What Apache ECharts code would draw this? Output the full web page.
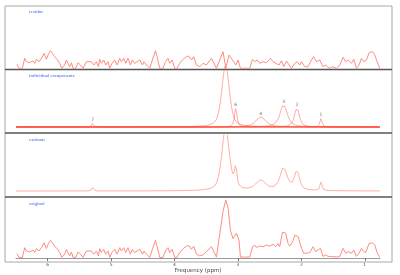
<!DOCTYPE html>
<html><head><meta charset="utf-8">
<script src="https://cdn.jsdelivr.net/npm/echarts@6/dist/echarts.min.js"></script>
<style>html,body{margin:0;padding:0;background:#fff}#c{width:400px;height:275px}</style>
</head><body><div id="c"></div>
<script>
// ---- data ----
const panelTitles = ['residue', 'individual components', 'estimate', 'original'];
const xTicks = [6, 5, 4, 3, 2, 1];
const xLabel = 'Frequency (ppm)';
// fitted components (pseudo-Voigt lines): label, centre (ppm), height, half width (ppm), Lorentz fraction
const compLabels = ['1', '2', '3', '4', '5', '6', '7'];
const compCenter = [1.69, 2.07, 2.28, 2.64, 3.195, 3.035, 5.29];
const compHeight = [9, 19, 22, 10, 62, 19, 4];
const compHalfWidth = [0.019, 0.047, 0.07, 0.095, 0.071, 0.024, 0.016];
const compEta = [0.7, 0.7, 0.7, 0.7, 0.5, 0.7, 0.7];
// residue samples
const resPpm = [6.484, 6.453, 6.399, 6.363, 6.336, 6.284, 6.232, 6.205, 6.178, 6.137, 6.099, 6.058, 6.021, 5.995, 5.957, 5.926, 5.890, 5.853, 5.811, 5.779, 5.732, 5.705, 5.680, 5.653, 5.626, 5.601, 5.558, 5.522, 5.484, 5.443, 5.390, 5.364, 5.311, 5.274, 5.232, 5.200, 5.180, 5.153, 5.117, 5.085, 5.049, 5.022, 4.986, 4.943, 4.907, 4.864, 4.838, 4.801, 4.770, 4.733, 4.696, 4.664, 4.628, 4.591, 4.549, 4.506, 4.481, 4.443, 4.391, 4.349, 4.301, 4.276, 4.233, 4.181, 4.144, 4.103, 4.076, 4.039, 3.997, 3.961, 3.918, 3.866, 3.812, 3.776, 3.733, 3.697, 3.655, 3.603, 3.551, 3.497, 3.418, 3.339, 3.235, 3.192, 3.140, 3.087, 3.035, 2.998, 2.961, 2.814, 2.771, 2.735, 2.699, 2.656, 2.604, 2.550, 2.487, 2.446, 2.404, 2.352, 2.314, 2.278, 2.235, 2.194, 2.156, 2.104, 2.068, 2.025, 1.998, 1.946, 1.894, 1.841, 1.804, 1.762, 1.710, 1.658, 1.615, 1.563, 1.509, 1.446, 1.394, 1.342, 1.300, 1.263, 1.210, 1.174, 1.131, 1.090, 1.052, 1.016, 0.973, 0.932, 0.878, 0.842, 0.806, 0.763];
const resVal = [4.7, 0.7, 0.7, 10.7, 7.3, 6.3, 8.3, 5.7, 9.7, 7.3, 10.7, 15.7, 9.7, 14, 18.3, 15.7, 12.3, 9.7, 5.7, 0.7, 4, 9, 5.7, 2.3, 6.3, 0.7, 0.7, 6.3, 4, 0.7, 7.3, 5.7, 7.3, 4, 7.3, 2.3, 9.7, 5.7, 9, 4, 7.3, 0.7, 5.7, 9, 4, 10.7, 7.3, 10.7, 5.7, 10.7, 4, 9, 5.7, 7.3, 9, 4, 7.3, 4, 0.7, 9, 18.3, 12.3, 0.7, 0.7, 7.3, 10.7, 5.7, 9, 0.7, 0.7, 5.7, 9.7, 12.3, 13, 9, 12.3, 4, 2.3, 5.7, 4, 10.7, 0.7, 17.3, 1, 14, 9, 4, 9, 0.7, 0.7, 9.7, 7.3, 9, 5.7, 7.3, 6.3, 10.7, 7.3, 5.7, 4, 8.3, 2.3, 8, 4, 0.7, 5.7, 7.3, 4, 7.3, 2.3, 2.3, 9, 12.3, 7.3, 9, 2.3, 4, 0.7, 2.3, 0.7, 4, 11.7, 7.3, 9, 5.7, 9.7, 0.7, 4, 10.7, 7.3, 9, 16.3, 17.3, 14, 7.3, 0.7];
// original spectrum samples
const origPpm = [6.484, 6.453, 6.399, 6.363, 6.336, 6.284, 6.232, 6.205, 6.178, 6.137, 6.099, 6.058, 6.021, 5.995, 5.957, 5.926, 5.890, 5.853, 5.811, 5.779, 5.732, 5.705, 5.680, 5.653, 5.626, 5.601, 5.558, 5.522, 5.484, 5.443, 5.390, 5.364, 5.311, 5.274, 5.232, 5.200, 5.180, 5.153, 5.117, 5.085, 5.049, 5.022, 4.986, 4.943, 4.907, 4.864, 4.838, 4.801, 4.770, 4.733, 4.696, 4.664, 4.628, 4.591, 4.549, 4.506, 4.481, 4.443, 4.391, 4.349, 4.301, 4.276, 4.233, 4.181, 4.144, 4.103, 4.076, 4.039, 3.997, 3.961, 3.918, 3.866, 3.812, 3.776, 3.733, 3.697, 3.655, 3.603, 3.551, 3.497, 3.418, 3.339, 3.287, 3.235, 3.192, 3.156, 3.118, 3.077, 3.024, 2.983, 2.961, 2.814, 2.771, 2.735, 2.708, 2.656, 2.604, 2.550, 2.498, 2.446, 2.404, 2.368, 2.341, 2.298, 2.246, 2.210, 2.183, 2.140, 2.104, 2.052, 1.998, 1.962, 1.920, 1.868, 1.815, 1.773, 1.737, 1.699, 1.658, 1.615, 1.579, 1.525, 1.446, 1.394, 1.342, 1.300, 1.263, 1.210, 1.174, 1.131, 1.090, 1.052, 1.016, 0.984, 0.932, 0.878, 0.842, 0.806, 0.763];
const origVal = [4.7, 0.7, 0.7, 10.7, 7.3, 6.3, 8.3, 5.7, 9.7, 7.3, 10.7, 15.7, 9.7, 14, 18.3, 15.7, 12.3, 9.7, 5.7, 0.7, 4, 9, 5.7, 2.3, 6.3, 0.7, 0.7, 6.3, 4, 0.7, 7.3, 5.7, 7.3, 4, 7.3, 2.3, 9.7, 5.7, 9, 4, 7.3, 0.7, 5.7, 9, 4, 10.7, 7.3, 10.7, 5.7, 10.7, 4, 9, 5.7, 7.3, 9, 4, 7.3, 4, 0.7, 9, 18.3, 12.3, 0.7, 0.7, 7.3, 10.7, 5.7, 9, 0.7, 0.7, 5.7, 9.7, 12.3, 13, 9, 12.3, 4, 2.3, 3.3, 6.7, 11.7, 1, 25, 48.3, 60, 51.7, 28.3, 20, 25.7, 18.3, 1, 1, 11.7, 13.3, 11, 12.3, 11.7, 13.3, 12.3, 14.3, 11.7, 15, 11.7, 26.7, 25.7, 15, 12.3, 16.7, 23.3, 22.3, 10, 5, 5, 5.7, 11.7, 6.7, 8.3, 10, 1.7, 3.3, 1.7, 1.7, 1, 1.7, 10, 5, 6.7, 5, 8.3, 1.7, 5, 10, 6.7, 5.7, 15, 15.7, 13.3, 5.7, 1];

// ---- build series ----
const X_MIN = 0.76, X_MAX = 6.5;
function comp(i, p) {
  const w = compHalfWidth[i], r = (p - compCenter[i]) / w, e = compEta[i];
  return compHeight[i] * (e / (1 + r * r) + (1 - e) * Math.exp(-Math.LN2 * r * r));
}
function est(p) { let s = 0; for (let i = 0; i < compCenter.length; i++) s += comp(i, p); return s; }
const grid = [];
for (let k = 0; k <= Math.round((X_MAX - X_MIN) / 0.004); k++) grid.push(+(X_MAX - k * 0.004).toFixed(4));

const series = [];
series.push({ type: 'line', xAxisIndex: 0, yAxisIndex: 0, showSymbol: false, silent: true,
  data: resPpm.map((p, i) => [p, resVal[i]]), lineStyle: { color: '#ff8c80', width: 1 } });
compCenter.forEach((c, i) => {
  series.push({ type: 'line', xAxisIndex: 1, yAxisIndex: 1, showSymbol: false, silent: true, clip: false,
    data: grid.map(p => [p, comp(i, p)]), lineStyle: { color: 'rgba(255,60,40,0.42)', width: 1 } });
});
series.push({ type: 'scatter', xAxisIndex: 1, yAxisIndex: 1, symbolSize: 0, silent: true,
  data: compCenter.map((c, i) => ({ value: [c, compHeight[i]], name: compLabels[i] })).filter((d, i) => i !== 4),
  label: { show: true, position: 'top', distance: 1, formatter: '{b}', fontSize: 4.5, color: '#444', fontFamily: 'DejaVu Sans' } });
series.push({ type: 'line', xAxisIndex: 2, yAxisIndex: 2, showSymbol: false, silent: true,
  data: grid.map(p => [p, est(p)]), lineStyle: { color: '#ffaca2', width: 1 } });
series.push({ type: 'line', xAxisIndex: 3, yAxisIndex: 3, showSymbol: false, silent: true,
  data: origPpm.map((p, i) => [p, origVal[i]]), lineStyle: { color: '#ff8c80', width: 1 } });

const grids = [
  { left: 16, width: 364, top: 6, height: 63 },
  { left: 16, width: 364, top: 70, height: 63 },
  { left: 16, width: 364, top: 135, height: 62 },
  { left: 16, width: 364, top: 197, height: 65 }
];
const yRanges = [[0, 63], [-6, 57], [-6, 56], [-2, 63]];
const xAxes = grids.map((g, i) => ({
  type: 'value', gridIndex: i, min: X_MIN, max: X_MAX, inverse: true,
  show: i === 3, splitLine: { show: false },
  axisLine: { show: true, lineStyle: { color: '#9a9a9a', width: 1 } },
  axisTick: { show: true, customValues: xTicks, length: 3, lineStyle: { color: '#777' } },
  axisLabel: { show: true, customValues: xTicks, fontSize: 4.5, color: '#555', margin: 2, fontFamily: 'DejaVu Sans' },
  name: i === 3 ? xLabel : '', nameLocation: 'middle', nameGap: 8,
  nameTextStyle: { fontSize: 5.5, color: '#444', fontFamily: 'DejaVu Sans' }
}));
const yAxes = grids.map((g, i) => ({ type: 'value', gridIndex: i, min: yRanges[i][0], max: yRanges[i][1], show: false }));
const titleTops = [9, 73, 137, 201];
const titles = panelTitles.map((t, i) => ({ text: t, left: 29, top: titleTops[i], padding: 0,
  textStyle: { fontSize: 5, color: '#3d63f0', fontWeight: 'normal', fontFamily: 'Liberation Serif' } }));

const chart = echarts.init(document.getElementById('c'), null, { renderer: 'canvas' });
chart.setOption({
  animation: false,
  backgroundColor: '#fff',
  title: titles,
  grid: grids,
  xAxis: xAxes,
  yAxis: yAxes,
  series: series,
  graphic: [
    { type: 'rect', shape: { x: 5, y: 6, width: 387, height: 256 }, style: { fill: 'none', stroke: '#a8a8a8', lineWidth: 1 }, silent: true, z: 0 },
    { type: 'line', shape: { x1: 5, y1: 69.5, x2: 392, y2: 69.5 }, style: { stroke: '#555', lineWidth: 1.5 }, silent: true },
    { type: 'line', shape: { x1: 5, y1: 133, x2: 392, y2: 133 }, style: { stroke: '#555', lineWidth: 1.5 }, silent: true },
    { type: 'line', shape: { x1: 5, y1: 197, x2: 392, y2: 197 }, style: { stroke: '#555', lineWidth: 1.5 }, silent: true }
  ]
});
</script></body></html>
